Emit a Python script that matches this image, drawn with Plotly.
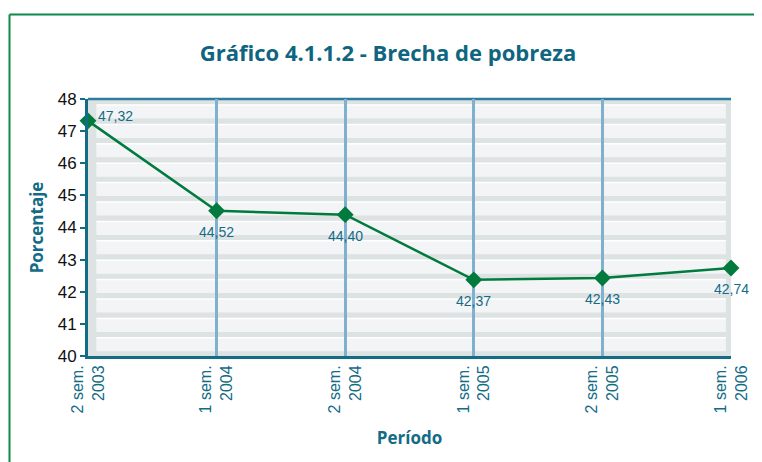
import plotly.graph_objects as go

periods = ["2 sem.<br>2003", "1 sem.<br>2004", "2 sem.<br>2004", "1 sem.<br>2005", "2 sem.<br>2005", "1 sem.<br>2006"]
values = [47.32, 44.52, 44.40, 42.37, 42.43, 42.74]
label_below = [False, True, True, True, True, True]
y_ticks = [40, 41, 42, 43, 44, 45, 46, 47, 48]

TEAL = "#136b86"
GREEN = "#007a3d"
GRIDBLUE = "#7fb0cf"

labels = [f"{v:.2f}".replace(".", ",") for v in values]

# the page body adds ~7px offset; compensate in margins
L, T, PW, PH = 80, 91, 643, 257
R = 762 - L - PW
B = 462 - T - PH

fig = go.Figure()
fig.add_trace(go.Scatter(
    x=list(range(len(periods))), y=values,
    mode="lines+markers",
    line=dict(color=GREEN, width=2.5),
    marker=dict(symbol="diamond", size=13, color=GREEN),
    cliponaxis=False, hoverinfo="skip",
))

annotations = []
for i, (v, t, below) in enumerate(zip(values, labels, label_below)):
    if below:
        annotations.append(dict(x=i, y=v, text=t, showarrow=False, xanchor="center", yanchor="middle",
                                yshift=-21, font=dict(family="Liberation Sans, Arial", size=14, color=TEAL)))
    else:
        annotations.append(dict(x=i, y=v, text=t, showarrow=False, xanchor="left", yanchor="middle",
                                xshift=8, yshift=5, font=dict(family="Liberation Sans, Arial", size=14, color=TEAL)))

# striped background bands (decoration)
shapes = []
period = 19.4
y0px = 6.0
while y0px < PH - 2:
    top = y0px
    bot = min(y0px + 13.5, PH - 2)
    shapes.append(dict(type="rect", xref="paper", yref="paper",
                       x0=0.013, x1=0.992,
                       y0=1 - bot / PH, y1=1 - top / PH,
                       fillcolor="#f3f4f6", line=dict(width=0), layer="below"))
    shapes.append(dict(type="line", xref="paper", yref="paper",
                       x0=0.013, x1=0.992,
                       y0=1 - top / PH, y1=1 - top / PH,
                       line=dict(color="#ffffff", width=1.5), layer="below"))
    y0px += period

# outer green frame (left + top visible)
fx0 = -(L - 1.5) / PW
fy1 = 1 + (T - 6.5) / PH
shapes.append(dict(type="line", xref="paper", yref="paper",
                   x0=fx0, x1=fx0, y0=-(B + 20) / PH, y1=fy1,
                   line=dict(color="#0a8a4a", width=2), layer="below"))
shapes.append(dict(type="line", xref="paper", yref="paper",
                   x0=fx0, x1=1 + (R + 20) / PW, y0=fy1, y1=fy1,
                   line=dict(color="#0a8a4a", width=2), layer="below"))

fig.update_layout(
    width=762, height=462,
    margin=dict(l=L, r=R, t=T, b=B, autoexpand=False),
    paper_bgcolor="white",
    plot_bgcolor="#dde2e3",
    showlegend=False,
    shapes=shapes,
    annotations=annotations,
    title=dict(text="<b>Gráfico 4.1.1.2 - Brecha de pobreza</b>",
               x=(387 - 7) / 762, xanchor="center", y=1 - (52 - 7) / 462, yanchor="middle",
               font=dict(family="Open Sans, Lato", size=22, color="#0f6580")),
)

fig.update_xaxes(
    range=[0, len(periods) - 1], automargin=False,
    tickmode="array", tickvals=list(range(len(periods))), ticktext=periods,
    tickangle=-90,
    tickfont=dict(family="Liberation Sans, Arial", size=16, color=TEAL),
    showgrid=True, gridcolor=GRIDBLUE, gridwidth=2.5,
    showline=True, linecolor=TEAL, linewidth=3, mirror=False,
    ticks="", zeroline=False,
    title=dict(text="<b>Período</b>", font=dict(family="Open Sans, Lato", size=17, color=TEAL), standoff=20),
)
fig.update_yaxes(
    range=[40, 48], automargin=False,
    tickmode="array", tickvals=y_ticks,
    tickfont=dict(family="Liberation Sans, Arial", size=17, color="#111111"),
    showgrid=False,
    showline=True, linecolor=TEAL, linewidth=3,
    ticks="outside", ticklen=5, tickcolor=TEAL, tickwidth=2,
    zeroline=False,
    title=dict(text="<b>Porcentaje</b>", font=dict(family="Open Sans, Lato", size=17, color=TEAL), standoff=10),
)

fig.add_shape(type="line", xref="paper", yref="paper", x0=0, x1=1, y0=1, y1=1,
              line=dict(color="#2f7d9c", width=2.5), layer="below")

fig.write_html("out.html")
